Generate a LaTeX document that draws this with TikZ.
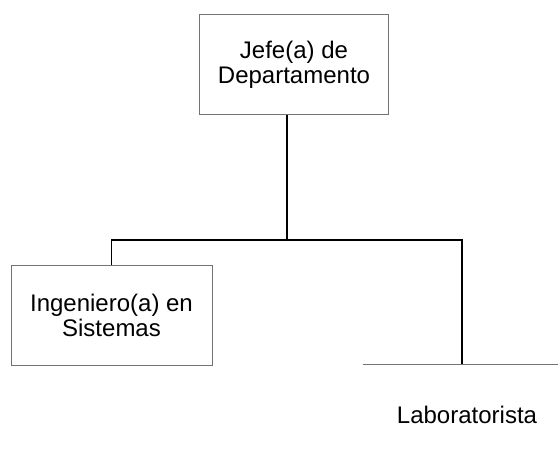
\documentclass[tikz,border=0pt]{standalone}
\usepackage{fontspec}
\setmainfont{Liberation Sans}
\usetikzlibrary{positioning}

\begin{document}
\begin{tikzpicture}[
	% One unit is one pixel of the page, y runs downwards.
	x=1pt, y=-1pt,
	font=\fontsize{24}{25}\selectfont
	]
	% Styles for the boxes and the connecting lines.
	\tikzset{
		post/.style={draw=black!55, line width=0.6pt, rectangle, minimum height=100pt, minimum width=189pt, align=center, inner sep=0pt},
		openpost/.style={rectangle, minimum height=100pt, minimum width=200pt, align=center, inner sep=0pt},
		edge/.style={draw=black!55, line width=0.6pt},
		line/.style={line width=1.8pt} % plain lines, no arrowheads
	}
	
	\useasboundingbox (0,0) rectangle (558,462);
	
	% === NODES ===
	
	\node[post] (jefe) at (294,64.5) {Jefe(a) de\\Departamento};
	\node[post, minimum width=201pt] (ing) at (111.5,315) {Ingeniero(a) en\\Sistemas};
	\node[openpost] (lab) at (467,415) {Laboratorista};
	\coordinate[below=125pt of jefe.south, xshift=-7pt] (split);
	
	% === CONNECTIONS ===
	
	\draw[line] ([xshift=-7pt]jefe.south) -- (split);
	\draw[line] (split) -| (ing.north);
	\draw[line] (split) -| ([xshift=-5pt]lab.north);
	\draw[edge] ([xshift=-4pt]lab.north west) -- (lab.north east);
\end{tikzpicture}
\end{document}
